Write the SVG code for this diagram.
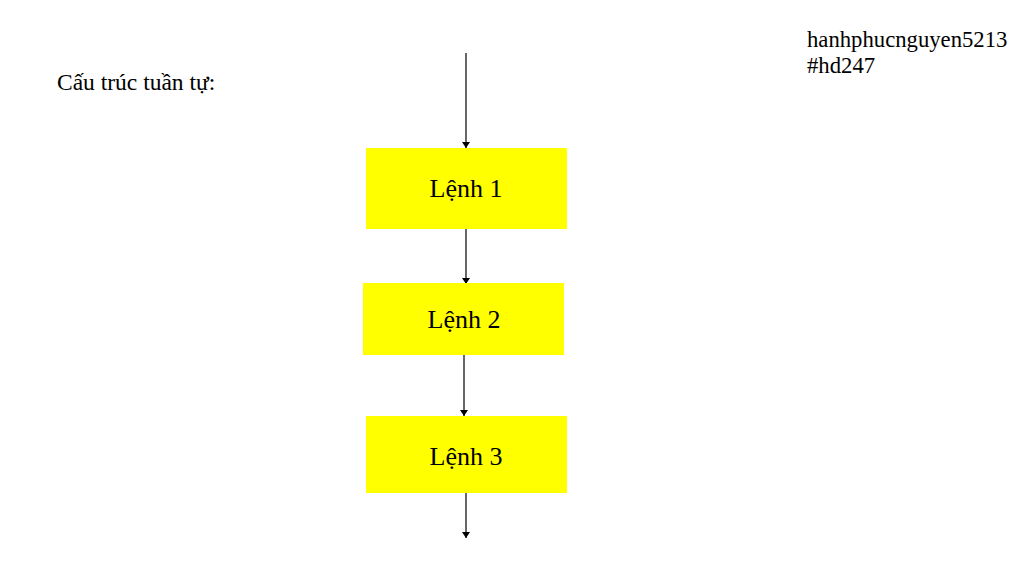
<svg xmlns="http://www.w3.org/2000/svg" width="1024" height="570" viewBox="0 0 1024 570">
<style>
.t{font-family:"Liberation Serif","Times New Roman",serif;fill:#000}
.box{fill:#ffff00}
.lbl{font-size:26px;text-anchor:middle}
.c{stroke:#000;stroke-width:1.2;fill:none;marker-end:url(#ah)}
</style>
<defs>
<marker id="ah" viewBox="0 0 6 8" refX="6" refY="4" markerWidth="6" markerHeight="8" markerUnits="userSpaceOnUse" orient="auto">
<path d="M0,0 L6,4 L0,8 z" fill="#000"/>
</marker>
</defs>
<rect width="1024" height="570" fill="#fff"/>
<text class="t" x="57" y="90" font-size="23.5">Cấu trúc tuần tự:</text>
<text class="t" x="807" y="47" font-size="22.7">hanhphucnguyen5213</text>
<text class="t" x="807" y="73" font-size="22.7">#hd247</text>
<g id="connectors">
<line class="c" x1="466" y1="53" x2="466" y2="148"/>
<line class="c" x1="466" y1="229" x2="466" y2="284"/>
<line class="c" x1="464" y1="355" x2="464" y2="416"/>
<line class="c" x1="466" y1="493" x2="466" y2="538"/>
</g>
<g id="lenh1">
<rect class="box" x="366" y="148" width="201" height="81"/>
<text class="t lbl" x="466" y="197">Lệnh 1</text>
</g>
<g id="lenh2">
<rect class="box" x="363" y="283" width="201" height="72"/>
<text class="t lbl" x="464" y="328">Lệnh 2</text>
</g>
<g id="lenh3">
<rect class="box" x="366" y="416" width="201" height="77"/>
<text class="t lbl" x="466" y="465">Lệnh 3</text>
</g>
</svg>
